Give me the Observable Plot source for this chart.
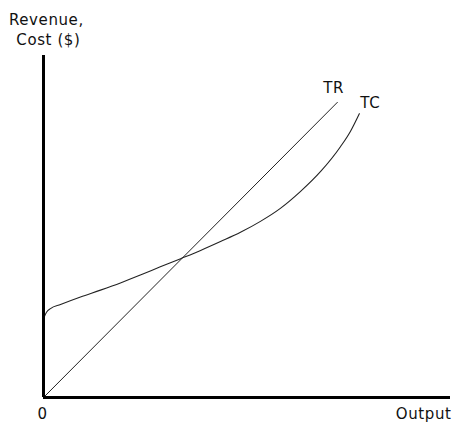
<!DOCTYPE html>
<html><head><meta charset="utf-8">
<script src="https://cdn.jsdelivr.net/npm/d3@7"></script>
<script src="https://cdn.jsdelivr.net/npm/@observablehq/plot@0.6"></script>
<style>body{margin:0;background:#fff} svg text{letter-spacing:0.6px}</style>
</head><body><div id="chart"></div>
<script>
const trX = [0, 72.2];
const trY = [0, 86.3];
const tcX = [0, 0.25, 0.74, 1.72, 4.18, 9.09, 14.0, 18.9, 23.8, 28.7, 33.7, 38.6, 43.5, 48.4, 53.3, 58.2, 63.1, 68.1, 73.0, 75.4, 77.6];
const tcY = [22.5, 23.7, 24.9, 26.0, 27.2, 29.4, 31.4, 33.5, 35.8, 38.2, 40.6, 43.0, 45.6, 48.3, 51.5, 55.3, 60.2, 66.1, 73.4, 77.8, 83.0];
const labels = ["TR", "TC", "0", "Output", "Revenue,", "Cost ($)"];
const labelX = [71.3, 80.3, -0.2, 93.4, 0.7, 1.2];
const labelY = [90.4, 86.0, -5.0, -5.0, 110.2, 104.4];

const tr = trX.map((x, i) => ({x, y: trY[i]}));
const tc = tcX.map((x, i) => ({x, y: tcY[i]}));
const lab = labels.map((t, i) => ({t, x: labelX[i], y: labelY[i]}));

const plot = Plot.plot({
  width: 455, height: 423,
  marginLeft: 43, marginRight: 5, marginTop: 55, marginBottom: 26,
  x: {domain: [0, 100], axis: null},
  y: {domain: [0, 100], axis: null},
  style: {fontFamily: "DejaVu Sans", background: "#fff"},
  marks: [
    Plot.line(tr, {x: "x", y: "y", stroke: "#222", strokeWidth: 1}),
    Plot.line(tc, {x: "x", y: "y", stroke: "#222", strokeWidth: 1.1, curve: "monotone-x"}),
    Plot.ruleX([0], {y1: 0, y2: 100, stroke: "#000", strokeWidth: 3}),
    Plot.ruleY([0], {x1: 0, x2: 100, stroke: "#000", strokeWidth: 3}),
    Plot.text(lab, {x: "x", y: "y", text: "t", fontSize: 15, fill: "#111"})
  ]
});
document.getElementById("chart").append(plot);
</script></body></html>
